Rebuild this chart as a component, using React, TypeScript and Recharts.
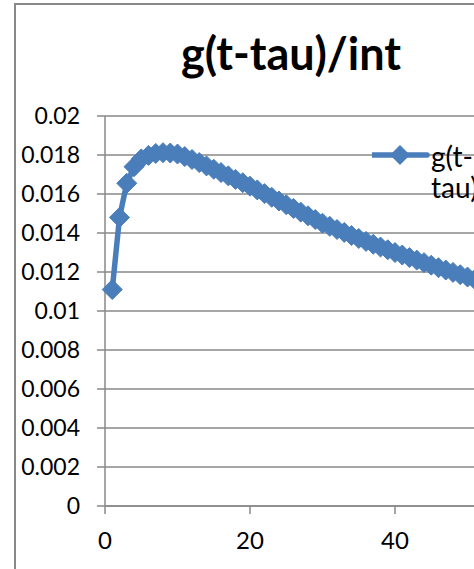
import React from 'react';
import { LineChart, Line, XAxis, YAxis, CartesianGrid } from 'recharts';

// t (time step) and normalised kernel g(t - tau) / integral
const tValues = [
  1, 2, 3, 4, 5, 6, 7, 8, 9, 10,
  11, 12, 13, 14, 15, 16, 17, 18, 19, 20,
  21, 22, 23, 24, 25, 26, 27, 28, 29, 30,
  31, 32, 33, 34, 35, 36, 37, 38, 39, 40,
  41, 42, 43, 44, 45, 46, 47, 48, 49, 50,
  51, 52, 53, 54, 55, 56, 57, 58, 59, 60,
];
const gValues = [
  0.0111, 0.0148, 0.01655, 0.0174, 0.0178, 0.01798, 0.01808, 0.01812, 0.0181, 0.01805,
  0.01792, 0.01777, 0.01761, 0.01744, 0.01727, 0.0171, 0.01693, 0.01675, 0.01658, 0.0164,
  0.01621, 0.01602, 0.01583, 0.01564, 0.01545, 0.01526, 0.01507, 0.01488, 0.01469, 0.0145,
  0.01434, 0.01418, 0.01403, 0.01387, 0.01372, 0.01357, 0.01342, 0.01328, 0.01314, 0.013,
  0.01287, 0.01274, 0.01261, 0.01248, 0.01235, 0.01222, 0.0121, 0.01198, 0.01186, 0.01174,
  0.01162, 0.01151, 0.0114, 0.01129, 0.01118, 0.01107, 0.01097, 0.01087, 0.01077, 0.01067,
];
const yTicks = [0, 0.002, 0.004, 0.006, 0.008, 0.01, 0.012, 0.014, 0.016, 0.018, 0.02];
const xTicks = [0, 20, 40, 60];
const seriesName = 'g(t-tau)/int';
const titleText = 'g(t-tau)/int';

const data = tValues.map((t, i) => ({ t, g: gValues[i] }));

const BLUE = '#4A7EBB';
const GREY = '#898989';
const FONT = 'Lato, "Open Sans", sans-serif';

const Diamond = (props: any) => {
  const { cx, cy } = props;
  if (cx == null || cy == null) return null;
  const r = 10;
  return (
    <polygon
      points={`${cx},${cy - r} ${cx + r},${cy} ${cx},${cy + r} ${cx - r},${cy}`}
      fill={BLUE}
      stroke={BLUE}
      strokeWidth={1}
    />
  );
};

// Legend entry: line-with-diamond swatch and the series name broken after the hyphen
const LegendBox = ({ name }: { name: string }) => {
  const cut = name.indexOf('-') + 1;
  return (
    <div style={{ position: 'absolute', left: 356, top: 130, width: 200, height: 80, fontFamily: FONT }}>
      <svg width={60} height={40} style={{ position: 'absolute', left: 0, top: 0 }}>
        <line x1={1} y1={20} x2={55} y2={20} stroke={BLUE} strokeWidth={5.5} strokeLinecap="round" />
        <polygon points="28,10 38,20 28,30 18,20" fill={BLUE} />
      </svg>
      <div
        style={{
          position: 'absolute',
          left: 59,
          top: 6,
          fontSize: 28,
          lineHeight: '31px',
          color: '#000',
          whiteSpace: 'nowrap',
        }}
      >
        {name.slice(0, cut)}
        <br />
        {name.slice(cut)}
      </div>
    </div>
  );
};

export default function App() {
  return (
    <div
      style={{
        position: 'fixed',
        left: 0,
        top: 0,
        width: 474,
        height: 569,
        overflow: 'hidden',
        background: '#fff',
      }}
    >
      <div
        style={{
          position: 'absolute',
          left: 14,
          top: 3,
          width: 720,
          height: 620,
          borderLeft: `2px solid ${GREY}`,
          borderTop: `2px solid ${GREY}`,
          background: '#fff',
        }}
      >
        <div
          style={{
            position: 'absolute',
            left: 0,
            top: 26,
            width: 550,
            textAlign: 'center',
            fontFamily: FONT,
            fontWeight: 700,
            fontSize: 45,
            lineHeight: 1,
            color: '#000',
          }}
        >
          {titleText}
        </div>
        <LineChart
          width={720}
          height={620}
          data={data}
          margin={{ top: 111, right: 196, left: 0, bottom: 59 }}
        >
          <CartesianGrid vertical={false} stroke={GREY} strokeWidth={1.5} />
          <XAxis
            dataKey="t"
            type="number"
            domain={[0, 60]}
            ticks={xTicks}
            height={60}
            axisLine={{ stroke: GREY, strokeWidth: 1.5 }}
            tickLine={{ stroke: GREY, strokeWidth: 1.5 }}
            tickSize={8}
            tickMargin={18}
            tick={{ fill: '#000', fontSize: 24, fontFamily: FONT }}
          />
          <YAxis
            type="number"
            domain={[0, 0.02]}
            ticks={yTicks}
            interval={0}
            width={89}
            axisLine={{ stroke: GREY, strokeWidth: 1.5 }}
            tickLine={{ stroke: GREY, strokeWidth: 1.5 }}
            tickSize={8}
            tickMargin={17}
            tick={{ fill: '#000', fontSize: 23, fontFamily: FONT }}
            tickFormatter={(v: number) => String(v)}
          />
          <Line
            type="linear"
            dataKey="g"
            name={seriesName}
            stroke={BLUE}
            strokeWidth={5.5}
            dot={<Diamond />}
            activeDot={false}
            isAnimationActive={false}
          />
        </LineChart>
        <LegendBox name={seriesName} />
      </div>
    </div>
  );
}
